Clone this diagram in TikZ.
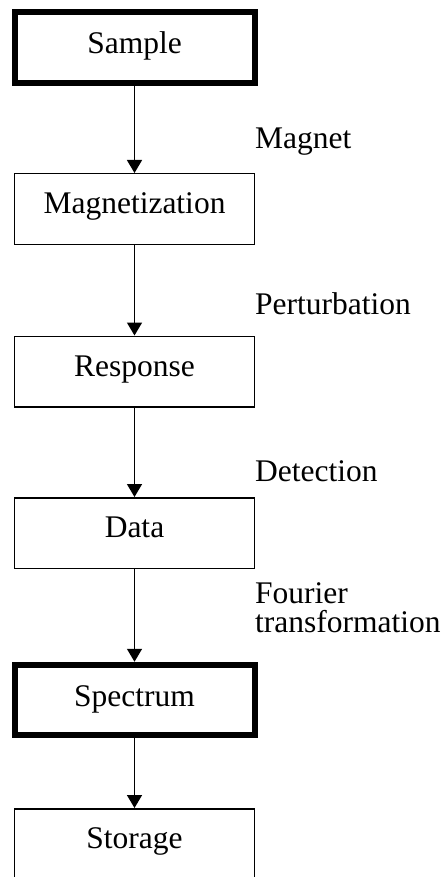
\documentclass[tikz,border=0pt]{standalone}
\usepackage{fontspec}
\setmainfont{Liberation Serif}
\usetikzlibrary{arrows.meta}
\begin{document}
\begin{tikzpicture}[x=1pt,y=-1pt,
  box/.style={draw, line width=1.5pt, minimum width=240pt, minimum height=70.5pt,
    inner sep=0pt, text height=22pt, text depth=13pt,
    font=\fontsize{31.5}{29}\selectfont},
  thickbox/.style={box, line width=6pt, text depth=9pt},
  lbl/.style={anchor=base west, inner sep=0pt, font=\fontsize{31.5}{29}\selectfont},
  flow/.style={line width=1.5pt, -{Triangle[width=15pt,length=13pt]}}]
\useasboundingbox[fill=white] (0,0) rectangle (445,877);
\node[thickbox] (sample) at (134.5,47.5) {Sample};
\node[box] (magn) at (134.5,209) {Magnetization};
\node[box] (resp) at (134.5,371.5) {Response};
\node[box] (data) at (134.5,533) {Data};
\node[thickbox] (spec) at (134.5,700) {Spectrum};
\node[box] (stor) at (134.5,844) {Storage};
\draw[flow] (sample.south) -- (magn.north);
\draw[flow] (magn.south) -- (resp.north);
\draw[flow] (resp.south) -- (data.north);
\draw[flow] (data.south) -- (spec.north);
\draw[flow] (spec.south) -- (stor.north);
\node[lbl] (l1) at (255,149) {Magnet};
\node[lbl] (l2) at (255,314) {Perturbation};
\node[lbl] (l3) at (255,481) {Detection};
\node[lbl] (l4) at (255,603) {\vtop{\baselineskip=29pt\hbox{Fourier}\hbox{transformation}}};
\end{tikzpicture}
\end{document}
